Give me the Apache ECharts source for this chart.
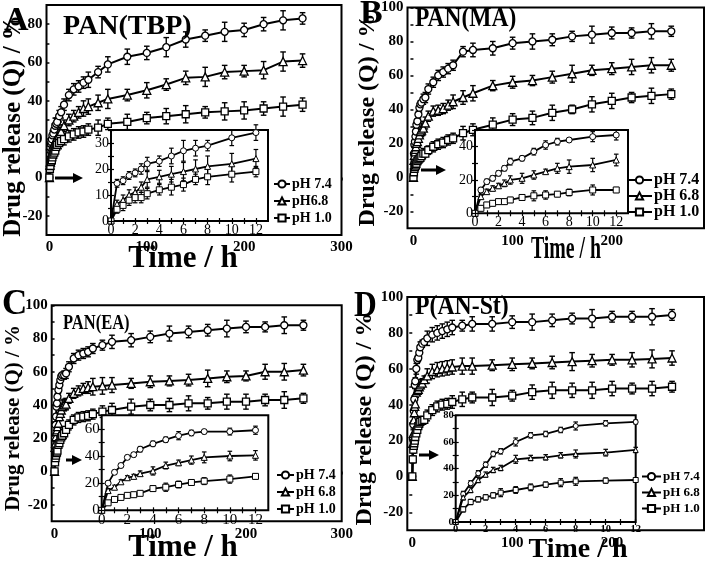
<!DOCTYPE html>
<html><head><meta charset="utf-8">
<script src="https://cdn.jsdelivr.net/npm/echarts@6/dist/echarts.min.js"></script>
<style>html,body{margin:0;padding:0;background:#fff}#c{width:708px;height:564px}</style>
</head><body><div id="c"></div>
<script>
const FONT = 'Liberation Serif';
// time points (h)
const timesH = [0,0.5,1,1.5,2,2.5,3,4,5,6,7,8,10,12,15,20,25,30,35,40,50,60,80,100,120,140,160,180,200,220,240,260];
const insetMaxT = 12;

// Panel A  PAN(TBP)
const a_ph74 = [0,14.5,15.5,17.5,18.5,20,22,23,25,27,28,29,32,34, 38,43,46,47.5,49.5,51, 55,59,63,65,68,72,74,76,77,80,82,83];
const a_ph68 = [0,6.5,8,10,11,13,16,17,18,19,20,21,22,24, 27,30,32,34,36,37, 39,41,43,45.5,48.5,52,52.5,55,55.5,56,60.5,61];
const a_ph10 = [0,4.5,6,8,9,9,10.5,12,13,14,16,17,18,19, 20,21.5,22.5,23.5,24,25, 26,28,29,31,32,33,34,34.5,35,36,37,38];
const a_sd74 = [0,1.5,1.5,1.5,1.5,2,2.5,2,3,4,3,2,3,3, 3,3,3,3,3,4, 3,4,4,3.5,5,4,3,5,3.5,3.5,5,3];
const a_sd68 = [0,1.5,2,2,2,2,3,2.5,3,3.5,3.5,4,4,3.5, 3,3,3,3,4,4, 4,5,3,4,3,3.5,5,3.5,3,4.5,5,3.5];
const a_sd10 = [0,1.5,2,2,2,2,2,2,3,2.5,2,3,3,2, 3,3,3,3,3,3, 4,3,4,3,4,4.5,3,4.5,4.5,3.5,5,3.5];

// Panel B  PAN(MA)
const b_ph74 = [0,14,19,21,24,27,31,33,37,41,43,44,46,47, 52,56,60,62,64,66, 74,75,76,79,80,81,83,84,85,85,86,86];
const b_ph68 = [0,10,13,15,16.5,18,20,21,23,25,27,28,29,32, 36,39,39.5,40.5,42.5,44.5, 47,49.5,54,56,57,59,61,63,64,65,66,66];
const b_ph10 = [0,3,5,6,7,7,8,9.5,10.5,11,11.5,12.5,14,14, 16,18,19.5,20.5,22,23, 26,28,31,34,35,38,40,43,45,47,48,49];
const b_sd74 = [0,1.5,1.5,1.5,1.5,1.5,2,1.5,2,2.5,2,1,3,3, 3,3,3,3,3,3, 3,4,4,3.5,4.5,3.5,3,5,3.5,3,4.5,3];
const b_sd68 = [0,1.5,1.5,1.5,1.5,2,2.5,3,2.5,1.5,3,4,4,3.5, 3,3,3,3,3,4, 4,4.5,3,3.5,3,3.5,5,3,3.5,4.5,4.5,3.5];
const b_sd10 = [0,1.5,1.5,1.5,1.5,1.5,1.5,1.5,3,2.5,1.5,2,3,1.5, 2.5,3,3,3,3,3, 4,3.5,4,3.5,4,4.5,2.5,4.5,4.5,3,4.5,3];

// Panel C  PAN(EA)
const c_ph74 = [0,20,28,33,39,41,45,49,52,55,57,58,58,59, 63,68,70,71,72,74, 76,78,79,81,83,84,85,86,87,87,88,88];
const c_ph68 = [0,14.5,17,21,24,25,27,29,33,35,37,39,40,40.5, 44,47,48.5,50,50.5,51, 51.5,52,53,54,54.5,55,56,57,57.5,60,60,61];
const c_ph10 = [0,5.5,8,9.5,11,11.5,12.5,16,17,19,20.5,21.5,23,25, 28,31,32.5,33,33.5,34.5, 36,37,39,40,40,41,41,42,42,43,43,44];
const c_sd74 = [0,1.5,1.5,1.5,1.5,1.5,2,2,2,3,2,1.5,2.5,3, 3,3,3,3,3,3, 3,4,4,3.5,4.5,3.5,3.5,5,3.5,3,5,3];
const c_sd68 = [0,1.5,1.5,1.5,1.5,1.5,2,3,2.5,2,3,4,3.5,3.5, 3,3,3,3,3.5,5, 5,4.5,3,3.5,3,3.5,5,3.5,3,4.5,5,3.5];
const c_sd10 = [0,1.5,1.5,1.5,1.5,1.5,1.5,2,3,2.5,2,2.5,3,2, 3,3,3,3,3,3, 3.5,4,4.5,3.5,4,4.5,3.5,4.5,4.5,3.5,5,3];

// Panel D  P(AN-St)
const d_ph74 = [0,21,29,36.5,43,51,53,60,65,66,69,72,74,75, 77,79,80,81,82,83, 84,85,85,86,86,87,88,88,89,89,89,90];
const d_ph68 = [0,18.5,24,31.5,35.5,39,40.5,47,48,48.5,50,51,52,54, 56,58.5,59.5,60,60.5,61, 61.5,61.5,62,62.5,63,63.5,64,64.5,65,65,65.5,66];
const d_ph10 = [0,9.5,15,17,18.5,20,22,24,26,28,29.5,30.5,31,31.5, 34,37,39,40,40.5,41.5, 43,44,44,45,47,48,48,48,49,49,49,50];
const d_sd74 = [0,2,2,2,2,2,2,3,2,2,2,3,2,1.5, 4,4,4,4,4,4, 3,4,4,3.5,4.5,3.5,3,5,3,3,4.5,3];
const d_sd68 = [0,2,2,2,2,2,2,3,2,2,2,3,2.5,2, 4,4,4,4,4,4, 4.5,4.5,3,3.5,3,3.5,5,3.5,3,4,5,4];
const d_sd10 = [0,2,2,2,2,2,3,2.5,2.5,2,3,3,2,1.5, 3,3,3,3,3,3.5, 4,3,4.5,3,4,4.5,4,4.5,4,3,4,3];

// tick labels
const mainXLabels300 = [0,100,200,300];
const mainXLabels200 = [0,100,200];
const mainYLabelsA = [-20,0,20,40,60,80];
const mainYLabels = [-20,0,20,40,60,80,100];
const mainYTicks = [-20,-10,0,10,20,30,40,50,60,70,80,90,100];
const insetXLabels = [0,2,4,6,8,10,12];
const insetXTicks = [0,1,2,3,4,5,6,7,8,9,10,11,12];
const insetYLabelsA = [0,10,20,30];
const insetYLabelsB = [0,20,40];
const insetYLabelsC = [0,20,40,60];
const insetYLabelsD = [0,20,40,60,80];

const names3 = ['pH 7.4','pH 6.8','pH 1.0'];
const panels = [
  {grid:{left:46.5,top:5,width:295,height:230}, x:[-3,300], y:[-30,90], xl:mainXLabels300, yl:mainYLabelsA,
   inset:{left:111,top:130,width:157,height:91}, ix:[0,13], iy:[0,35], iyl:insetYLabelsA, iyt:[0,5,10,15,20,25,30,35],
   vals:[a_ph74,a_ph68,a_ph10], sds:[a_sd74,a_sd68,a_sd10], names:['pH 7.4','pH6.8','pH 1.0'],
   ilab:{fontSize:14,fontWeight:'normal'},
   legend:{left:273,top:177,itemWidth:16,fontSize:14,itemGap:3}},
  {grid:{left:407.5,top:6,width:296.5,height:222.3}, x:[-6,293], y:[-30,100], xl:mainXLabels200, yl:mainYLabels,
   inset:{left:475,top:130,width:153,height:83.3}, ix:[0,13], iy:[0,50], iyl:insetYLabelsB, iyt:[0,10,20,30,40,50],
   vals:[b_ph74,b_ph68,b_ph10], sds:[b_sd74,b_sd68,b_sd10], names:names3,
   ilab:{fontSize:14,fontWeight:'normal'},
   legend:{left:626,top:172,itemWidth:25,fontSize:16,itemGap:0}},
  {grid:{left:51.7,top:305.3,width:290,height:216}, x:[-3,300], y:[-30,100], xl:mainXLabels300, yl:mainYLabels,
   inset:{left:101.7,top:415.3,width:166.6,height:95}, ix:[0,13], iy:[0,70], iyl:insetYLabelsC, iyt:[0,10,20,30,40,50,60,70],
   vals:[c_ph74,c_ph68,c_ph10], sds:[c_sd74,c_sd68,c_sd10], names:names3,
   ilab:{fontSize:15,fontWeight:'normal'},
   legend:{left:276,top:468,itemWidth:17,fontSize:14,itemGap:3}},
  {grid:{left:407.3,top:297,width:296.7,height:233.3}, x:[-5,292], y:[-30,100], xl:mainXLabels200, yl:mainYLabels,
   inset:{left:455.7,top:415.3,width:180,height:106.7}, ix:[0,12], iy:[0,80], iyl:insetYLabelsD, iyt:[0,10,20,30,40,50,60,70,80],
   vals:[d_ph74,d_ph68,d_ph10], sds:[d_sd74,d_sd68,d_sd10], names:names3,
   ilab:{fontSize:10.5,fontWeight:'bold'},
   legend:{left:641,top:470,itemWidth:19,fontSize:13,itemGap:3}}
];
const symbols = ['circle','triangle','rect'];

function errRender(cap, lw){
  return function(params, api){
    const x = api.value(0), y = api.value(1), e = api.value(2);
    if (!e) return null;
    const t = api.coord([x, y + e]), b = api.coord([x, y - e]);
    const st = {stroke:'#000', lineWidth:lw, fill:null};
    return {type:'group', children:[
      {type:'line', shape:{x1:t[0],y1:t[1],x2:b[0],y2:b[1]}, style:st},
      {type:'line', shape:{x1:t[0]-cap,y1:t[1],x2:t[0]+cap,y2:t[1]}, style:st},
      {type:'line', shape:{x1:b[0]-cap,y1:b[1],x2:b[0]+cap,y2:b[1]}, style:st}
    ]};
  };
}

const grids = [], xAxes = [], yAxes = [], series = [], legends = [];
panels.forEach((p, pi) => {
  const gm = grids.length;
  grids.push(Object.assign({show:true, borderColor:'#000', borderWidth:2, backgroundColor:'transparent', containLabel:false}, p.grid));
  const xm = xAxes.length;
  xAxes.push({type:'value', gridIndex:gm, min:p.x[0], max:p.x[1], axisLine:{show:false}, splitLine:{show:false},
    axisTick:{show:true, inside:false, length:3, lineStyle:{color:'#000', width:1.5}, customValues:p.xl},
    axisLabel:{customValues:p.xl, margin:5, color:'#000', fontFamily:FONT, fontWeight:'bold', fontSize:15}});
  const ym = yAxes.length;
  yAxes.push({type:'value', gridIndex:gm, min:p.y[0], max:p.y[1], axisLine:{show:false}, splitLine:{show:false},
    axisTick:{show:true, inside:false, length:3, lineStyle:{color:'#000', width:1.5}, customValues:mainYTicks.filter(v=>v<=p.y[1])},
    axisLabel:{customValues:p.yl, margin:4, color:'#000', fontFamily:FONT, fontWeight:'bold', fontSize:15}});
  const gi = grids.length;
  grids.push(Object.assign({show:true, borderColor:'#000', borderWidth:2, backgroundColor:'#fff', z:10, containLabel:false}, p.inset));
  const lab = {color:'#000', fontFamily:FONT, fontSize:p.ilab.fontSize, fontWeight:p.ilab.fontWeight};
  const xi = xAxes.length;
  xAxes.push({type:'value', gridIndex:gi, min:p.ix[0], max:p.ix[1], z:13, axisLine:{show:false}, splitLine:{show:false},
    axisTick:{show:true, inside:true, length:3, lineStyle:{color:'#000', width:1.2}, customValues:insetXTicks},
    axisLabel:Object.assign({customValues:insetXLabels, margin:2}, lab)});
  xAxes.push({type:'value', gridIndex:gi, position:'top', min:p.ix[0], max:p.ix[1], z:13, axisLine:{show:false}, splitLine:{show:false},
    axisTick:{show:true, inside:true, length:3, lineStyle:{color:'#000', width:1.2}, customValues:insetXTicks},
    axisLabel:{show:false}});
  const yi = yAxes.length;
  yAxes.push({type:'value', gridIndex:gi, min:p.iy[0], max:p.iy[1], z:13, axisLine:{show:false}, splitLine:{show:false},
    axisTick:{show:true, inside:true, length:3, lineStyle:{color:'#000', width:1.2}, customValues:p.iyt},
    axisLabel:Object.assign({customValues:p.iyl, margin:2}, lab)});
  yAxes.push({type:'value', gridIndex:gi, position:'right', min:p.iy[0], max:p.iy[1], z:13, axisLine:{show:false}, splitLine:{show:false},
    axisTick:{show:true, inside:true, length:3, lineStyle:{color:'#000', width:1.2}, customValues:p.iyt},
    axisLabel:{show:false}});

  p.vals.forEach((v, si) => {
    const sd = p.sds[si];
    const mainData = timesH.map((t,i)=>[t, v[i]]);
    const mainErr = timesH.map((t,i)=>[t, v[i], sd[i]]);
    const insData = mainData.filter(d=>d[0] <= insetMaxT);
    const insErr = mainErr.filter(d=>d[0] <= insetMaxT);
    const lineBase = {type:'line', symbol:symbols[si], showAllSymbol:true, animation:false,
      itemStyle:{color:'#fff', borderColor:'#000', borderWidth:1.3},
      lineStyle:{color:'#000', width:2}, emphasis:{disabled:true}};
    series.push(Object.assign({}, lineBase, {name:p.names[si], xAxisIndex:xm, yAxisIndex:ym, data:mainData, symbolSize:si===1?8:7, z:3}));
    series.push({type:'custom', name:'err', xAxisIndex:xm, yAxisIndex:ym, data:mainErr, renderItem:errRender(2.8,1.4), z:2, animation:false, silent:true});
    series.push(Object.assign({}, lineBase, {name:p.names[si]+' ', xAxisIndex:xi, yAxisIndex:yi, data:insData,
      symbolSize: pi===3 ? 5 : 6, lineStyle:{color:'#000', width:1.8}, itemStyle:{color:'#fff', borderColor:'#000', borderWidth:1}, z:12}));
    series.push({type:'custom', name:'err ', xAxisIndex:xi, yAxisIndex:yi, data:insErr, renderItem:errRender(2.3,1.2), z:11, animation:false, silent:true});
  });
  legends.push({orient:'vertical', left:p.legend.left, top:p.legend.top, itemWidth:p.legend.itemWidth, itemHeight:9,
    itemGap:p.legend.itemGap, data:p.names, z:20, selectedMode:false, padding:0,
    textStyle:{fontFamily:FONT, fontWeight:'bold', fontSize:p.legend.fontSize, color:'#000', padding:[0,0,0,-3]}});
});

function T(text, x, y, fs, sx){
  return {type:'text', x:x, y:y, z:30, scaleX:sx||1, style:{text:text, font:'bold '+fs+'px "'+FONT+'"', fill:'#000', textAlign:'left', textVerticalAlign:'middle'}};
}
function TC(text, x, y, fs, sx, rot){
  return {type:'text', x:x, y:y, z:30, scaleX:sx||1, rotation:rot||0, style:{text:text, font:'bold '+fs+'px "'+FONT+'"', fill:'#000', textAlign:'center', textVerticalAlign:'middle'}};
}
function arrow(x1, x2, y){
  return {type:'group', z:30, children:[
    {type:'line', z:30, shape:{x1:x1, y1:y, x2:x2-8, y2:y}, style:{stroke:'#000', lineWidth:3}},
    {type:'polygon', z:30, shape:{points:[[x2-10,y-5],[x2,y],[x2-10,y+5]]}, style:{fill:'#000'}}
  ]};
}
const graphics = [
  T('A', 4, 21.5, 34), T('PAN(TBP)', 63, 27, 28, 1.0),
  T('B', 360, 14, 34), T('PAN(MA)', 415, 19, 27, 0.87),
  T('C', 2, 305, 35), T('PAN(EA)', 63, 323, 22, 0.75),
  T('D', 354, 307, 35, 0.9), T('P(AN-St)', 415, 307, 27, 0.88),
  TC('Drug release (Q) / %', 14, 126, 25, 1, Math.PI/2),
  TC('Drug release (Q) / %', 368, 120, 24, 1, Math.PI/2),
  TC('Drug release (Q) / %', 14, 418, 21, 1, Math.PI/2),
  TC('Drug release (Q) / %', 365, 419, 24, 1, Math.PI/2),
  TC('Time / h', 183, 259, 31, 1),
  TC('Time / h', 566, 250, 31, 0.64),
  TC('Time / h', 183, 548, 31, 1),
  TC('Time / h', 578, 550, 28, 1),
  arrow(55, 83, 178), arrow(421, 446, 170), arrow(66, 82, 460), arrow(419, 439, 455)
];

const chart = echarts.init(document.getElementById('c'), null, {renderer:'canvas'});
chart.setOption({animation:false, backgroundColor:'#fff', grid:grids, xAxis:xAxes, yAxis:yAxes, series:series, legend:legends, graphic:graphics});
</script></body></html>
